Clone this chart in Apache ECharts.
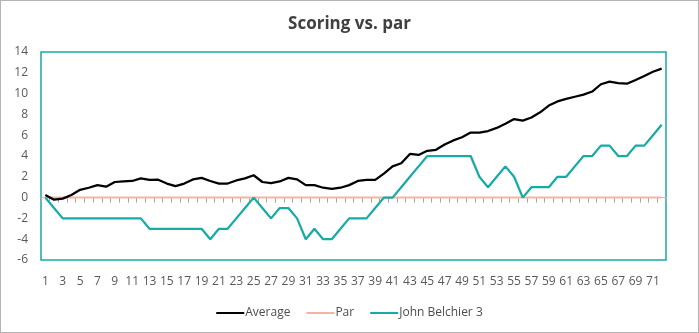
<!DOCTYPE html>
<html><head><meta charset="utf-8">
<script src="https://cdn.jsdelivr.net/npm/echarts@6/dist/echarts.min.js"></script>
<style>html,body{margin:0;padding:0;background:#fff}#c{width:699px;height:333px;box-sizing:border-box;border:1px solid #b4b4b4}</style>
</head><body><div id="c"></div>
<script>
const categories = Array.from({length:72}, (_, i) => String(i + 1));
const average = [0.25,-0.2,-0.1,0.25,0.75,0.95,1.2,1.05,1.5,1.55,1.6,1.85,1.7,1.72,1.35,1.1,1.35,1.75,1.9,1.6,1.35,1.35,1.65,1.85,2.15,1.5,1.4,1.55,1.9,1.75,1.2,1.2,0.95,0.85,0.95,1.2,1.6,1.7,1.7,2.3,3.0,3.3,4.2,4.1,4.5,4.6,5.1,5.5,5.8,6.25,6.25,6.4,6.7,7.1,7.55,7.4,7.7,8.2,8.85,9.25,9.5,9.7,9.9,10.2,10.9,11.15,11.0,10.95,11.3,11.7,12.1,12.4];
const par = Array(72).fill(0);
const john = [0,-1,-2,-2,-2,-2,-2,-2,-2,-2,-2,-2,-3,-3,-3,-3,-3,-3,-3,-4,-3,-3,-2,-1,0,-1,-2,-1,-1,-2,-4,-3,-4,-4,-3,-2,-2,-2,-1,0,0,1,2,3,4,4,4,4,4,4,2,1,2,3,2,0,1,1,1,2,2,3,4,4,5,5,4,4,5,5,6,7];
const yTicks = {min:-6, max:14, interval:2};
const seriesNames = ['Average','Par','John Belchier 3'];
const colors = ['#000000','#F5B4A0','#17ABA6'];

const chart = echarts.init(document.getElementById('c'), null, {renderer:'canvas'});
const font = '"Open Sans","Noto Sans",sans-serif';
chart.setOption({
  animation:false,
  title:{text:'Scoring vs. par', left:'center', top:10,
    textStyle:{fontFamily:font, fontSize:17, fontWeight:'bold', color:'#404040'}},
  grid:{left:40, right:32, top:51, bottom:72, show:true, borderColor:'#17ABA6', borderWidth:1.5,
    outerBoundsMode:'none', containLabel:false},
  legend:{bottom:8, left:'center', itemWidth:28, itemHeight:2, itemGap:16, icon:'rect',
    textStyle:{fontFamily:font, fontSize:12, color:'#4d4d4d', padding:[0,0,0,-4]},
    data:seriesNames},
  xAxis:[
    {type:'category', data:categories, boundaryGap:true, position:'bottom',
     axisLine:{show:true, onZero:true, lineStyle:{color:'#bfbfbf'}},
     axisTick:{show:true, length:5, inside:false, interval:0, lineStyle:{color:'#a6a6a6', width:1}},
     axisLabel:{show:false}},
    {type:'category', data:categories, boundaryGap:true, position:'bottom',
     axisLine:{show:false, onZero:false}, axisTick:{show:false},
     axisLabel:{show:true, interval:1, margin:16, fontFamily:font, fontSize:12, color:'#595959'}}
  ],
  yAxis:{type:'value', min:yTicks.min, max:yTicks.max, interval:yTicks.interval,
    splitLine:{show:false}, axisLine:{show:false}, axisTick:{show:false},
    axisLabel:{margin:13, fontFamily:font, fontSize:12, color:'#595959'}},
  series:[
    {name:seriesNames[0], type:'line', data:average, xAxisIndex:0, symbol:'none', color:colors[0], lineStyle:{width:2.25, color:colors[0]}, z:4},
    {name:seriesNames[1], type:'line', data:par, xAxisIndex:0, symbol:'none', color:colors[1], lineStyle:{width:2, color:colors[1]}, z:2},
    {name:seriesNames[2], type:'line', data:john, xAxisIndex:0, symbol:'none', color:colors[2], lineStyle:{width:2.25, color:colors[2]}, z:3}
  ]
});
</script></body></html>
